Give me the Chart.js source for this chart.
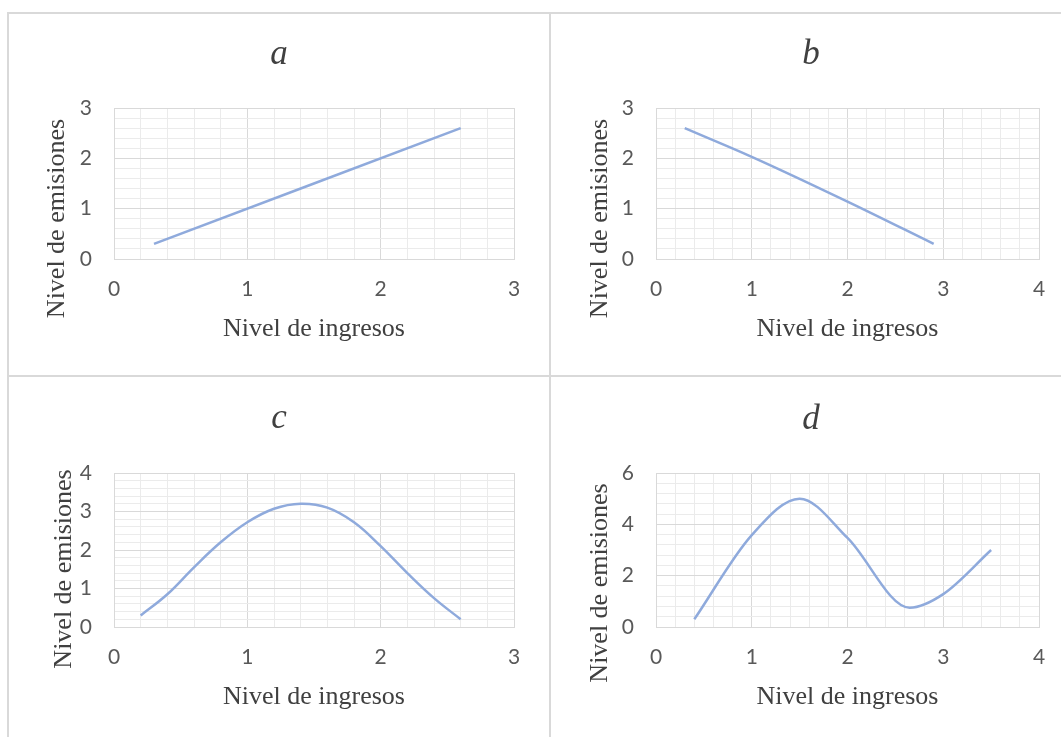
<!DOCTYPE html>
<html>
<head>
<meta charset="utf-8">
<script src="https://cdn.jsdelivr.net/npm/chart.js@4.4.0/dist/chart.umd.min.js"></script>
<style>
	body { margin: 0; background: #fff; width: 1061px; height: 737px; position: relative; overflow: hidden; }
	.rule { position: absolute; background: #d9d9d9; }
	canvas { position: absolute; }
</style>
</head>
<body>
<div class="rule" style="left:7px;top:12px;width:1054px;height:2px"></div>
<div class="rule" style="left:7px;top:375px;width:1054px;height:2px"></div>
<div class="rule" style="left:7px;top:12px;width:2px;height:725px"></div>
<div class="rule" style="left:549px;top:12px;width:2px;height:725px"></div>

<canvas id="chart-a" width="540" height="361" style="left:9px;top:14px"></canvas>
<canvas id="chart-b" width="510" height="361" style="left:551px;top:14px"></canvas>
<canvas id="chart-c" width="540" height="360" style="left:9px;top:377px"></canvas>
<canvas id="chart-d" width="510" height="360" style="left:551px;top:377px"></canvas>

<script>
// values
const aIncome = [0.3, 2.6];
const aEmission = [0.3, 2.6];

const bIncome = [0.3, 1, 2, 2.9];
const bEmission = [2.6, 2.03, 1.14, 0.3];

const cIncome = [0.2, 0.4, 0.6, 0.8, 1.0, 1.2, 1.4, 1.6, 1.8, 2.0, 2.2, 2.4, 2.6];
const cEmission = [0.3, 0.85, 1.55, 2.2, 2.72, 3.07, 3.2, 3.1, 2.72, 2.1, 1.4, 0.75, 0.2];

const dIncome = [0.4, 1.0, 1.5, 2.0, 2.65, 3.0, 3.5];
const dEmission = [0.3, 3.58, 5.0, 3.47, 0.75, 1.28, 3.0];

const panelLetters = ["a", "b", "c", "d"];
const xMax = [3, 4, 3, 4];
const yMax = [3, 3, 4, 6];
const yMajor = [1, 1, 1, 2];
const xLabel = "Nivel de ingresos";
const yLabel = "Nivel de emisiones";

const LINE = "#8faadc";
const MAJOR = "#d9d9d9";
const MINOR = "#ebebeb";

const isMajor = (v, step) => Math.abs(v / step - Math.round(v / step)) < 1e-6;

// rotated y title, Excel puts it lower than the plot centre
const yTitle = {
	id: "yTitle",
	afterDraw(chart, args, opts) {
		const { ctx, chartArea } = chart;
		ctx.save();
		ctx.translate(chartArea.left - opts.dx, (chartArea.top + chartArea.bottom) / 2 + opts.dy);
		ctx.rotate(-Math.PI / 2);
		ctx.font = '26px "Liberation Serif"';
		ctx.fillStyle = "#404040";
		ctx.textAlign = "center";
		ctx.textBaseline = "middle";
		ctx.fillText(opts.text, 0, 0);
		ctx.restore();
	},
};

const panels = [
	{ id: "chart-a", x: aIncome, y: aEmission, mode: "default", pad: { left: 35, right: 35, bottom: 30 }, yWidth: 70, title: [20, 32], dx: 57, dy: 35 },
	{ id: "chart-b", x: bIncome, y: bEmission, mode: "monotone", pad: { left: 32, right: 22, bottom: 30 }, yWidth: 73, title: [20, 32], dx: 56, dy: 35 },
	{ id: "chart-c", x: cIncome, y: cEmission, mode: "default", pad: { left: 35, right: 35, bottom: 24 }, yWidth: 70, title: [21, 33], dx: 50, dy: 19 },
	{ id: "chart-d", x: dIncome, y: dEmission, mode: "monotone", pad: { left: 32, right: 22, bottom: 24 }, yWidth: 73, title: [22, 32], dx: 56, dy: 33 },
];

panels.forEach((p, i) => {
	const major = yMajor[i];
	const points = p.x.map((v, k) => ({ x: v, y: p.y[k] }));

	new Chart(document.getElementById(p.id), {
		type: "scatter",
		data: {
			datasets: [
				{
					data: points,
					showLine: true,
					borderColor: LINE,
					borderWidth: 2.5,
					pointRadius: 0,
					tension: 0.4,
					cubicInterpolationMode: p.mode,
				},
			],
		},
		options: {
			responsive: false,
			animation: false,
			layout: { padding: { top: 0, ...p.pad } },
			plugins: {
				legend: { display: false },
				tooltip: { enabled: false },
				title: {
					display: true,
					text: panelLetters[i],
					color: "#404040",
					font: { family: "Liberation Serif", size: 35, style: "italic", weight: "normal" },
					padding: { top: p.title[0], bottom: p.title[1] },
				},
				yTitle: { text: yLabel, dx: p.dx, dy: p.dy },
			},
			scales: {
				x: {
					type: "linear",
					min: 0,
					max: xMax[i],
					border: { color: MAJOR },
					grid: {
						drawTicks: false,
						color: ctx => (isMajor(ctx.tick.value, 1) ? MAJOR : MINOR),
					},
					ticks: {
						stepSize: 0.2,
						maxTicksLimit: 100,
						autoSkip: false,
						maxRotation: 0,
						padding: 18,
						color: "#595959",
						font: { family: "Lato", size: 21 },
						callback: v => (isMajor(v, 1) ? v : ""),
					},
					title: {
						display: true,
						text: xLabel,
						color: "#404040",
						font: { family: "Liberation Serif", size: 26 },
						padding: 0,
					},
					afterFit(scale) {
						scale.height = 86;
						scale.paddingLeft = 0;
						scale.paddingRight = 0;
					},
				},
				y: {
					min: 0,
					max: yMax[i],
					border: { color: MAJOR },
					grid: {
						drawTicks: false,
						color: ctx => (isMajor(ctx.tick.value, major) ? MAJOR : MINOR),
					},
					ticks: {
						stepSize: major / 5,
						maxTicksLimit: 100,
						autoSkip: false,
						padding: 22,
						color: "#595959",
						font: { family: "Lato", size: 21 },
						callback: v => (isMajor(v, major) ? v : ""),
					},
					afterFit(scale) {
						scale.width = p.yWidth;
						scale.paddingTop = 0;
						scale.paddingBottom = 0;
					},
				},
			},
		},
		plugins: [yTitle],
	});
});
</script>
</body>
</html>
